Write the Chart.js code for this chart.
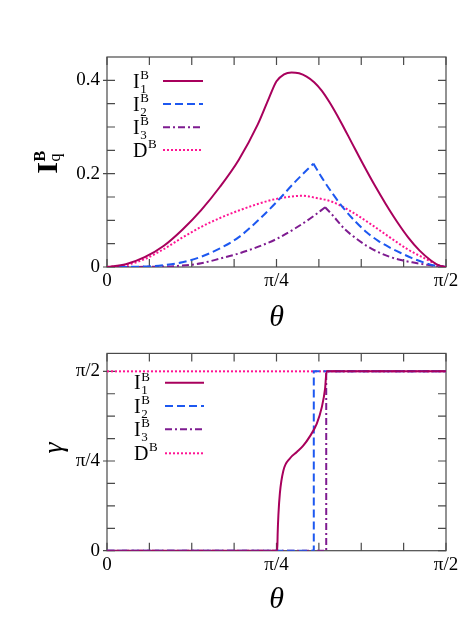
<!DOCTYPE html>
<html>
<head>
<meta charset="utf-8">
<script src="https://cdn.jsdelivr.net/npm/chart.js@4"></script>
<style>
html, body { margin: 0; padding: 0; background: #fff; }
#wrap { position: relative; width: 472px; height: 639px; }
#topChart { position: absolute; left: 0; top: 0; }
#botChart { position: absolute; left: 0; top: 335px; }
</style>
</head>
<body>
<div id="wrap">
  <canvas id="topChart" width="472" height="335"></canvas>
  <canvas id="botChart" width="472" height="304"></canvas>
</div>
<script>
// theta is kept in degrees (0..90 = 0..pi/2), gamma too
const xTickVals = [0, 45, 90];
const xTickLabels = ["0", "π/4", "π/2"];
const xMinorTicks = [11.25, 22.5, 33.75, 56.25, 67.5, 78.75];

const topYTickVals = [0, 0.2, 0.4];
const topYTickLabels = ["0", "0.2", "0.4"];
const topYMinorTicks = [0.05, 0.1, 0.15, 0.25, 0.3, 0.35];

const botYTickVals = [0, 45, 90];
const botYTickLabels = ["0", "π/4", "π/2"];
const botYMinorTicks = [11.25, 22.5, 33.75, 56.25, 67.5, 78.75];

const seriesBase = ["I", "I", "I", "D"];
const seriesSub = ["1", "2", "3", ""];
const seriesSup = ["B", "B", "B", "B"];

// ---- top panel: I_q^B ----
const i1Theta = [0, 5, 10, 15, 20, 25, 30, 35, 40, 43, 45, 47, 49, 51, 53, 55, 57, 59, 62, 65, 68, 71, 74, 77, 80, 83, 86, 88, 90];
const i1Val   = [0, 0.006, 0.021, 0.045, 0.080, 0.122, 0.172, 0.230, 0.305, 0.362, 0.398, 0.413, 0.417, 0.415, 0.408, 0.396, 0.378, 0.354, 0.312, 0.266, 0.220, 0.176, 0.135, 0.097, 0.063, 0.035, 0.014, 0.004, 0];

const i2Theta = [0, 10, 15, 20, 25, 30, 35, 40, 45, 50, 54.8, 57, 60, 63, 66, 69, 72, 75, 78, 81, 84, 87, 90];
const i2Val   = [0, 0.001, 0.004, 0.010, 0.022, 0.040, 0.064, 0.099, 0.139, 0.183, 0.2215, 0.192, 0.156, 0.124, 0.097, 0.074, 0.056, 0.042, 0.030, 0.019, 0.010, 0.003, 0];

const i3Theta = [0, 15, 20, 25, 30, 35, 40, 45, 50, 55, 57.9, 60, 63, 66, 69, 72, 75, 78, 81, 84, 87, 90];
const i3Val   = [0, 0.001, 0.003, 0.008, 0.018, 0.029, 0.043, 0.060, 0.083, 0.110, 0.128, 0.110, 0.082, 0.062, 0.045, 0.032, 0.022, 0.015, 0.010, 0.006, 0.002, 0];

const dTheta = [0, 5, 10, 15, 20, 25, 30, 35, 40, 45, 50, 52, 55, 60, 65, 70, 75, 80, 85, 88, 90];
const dVal   = [0, 0.004, 0.017, 0.038, 0.063, 0.086, 0.105, 0.121, 0.135, 0.146, 0.152, 0.1525, 0.149, 0.139, 0.118, 0.092, 0.064, 0.037, 0.016, 0.004, 0];

// index of the cusp (sharp peak) for each series, -1 = smooth
const topCusp = [-1, 10, 10, -1];

// ---- bottom panel: gamma ----
const g1Theta = [0, 45.2, 45.3, 45.5, 45.9, 46.8, 48.6, 50.4, 52.1, 53.9, 55.7, 57.0, 57.9, 58.3, 90];
const g1Val   = [0, 0, 8, 17.8, 28.9, 40.0, 46.4, 49.5, 52.7, 57.5, 63.8, 71.8, 81.3, 90, 90];

const g2Theta = [0, 54.9, 54.9, 90];
const g2Val   = [0, 0, 90, 90];

const g3Theta = [0, 58.2, 58.2, 90];
const g3Val   = [0, 0, 90, 90];

const gdTheta = [0, 90];
const gdVal   = [90, 90];

const botCurved = [true, false, false, false];

const SERIF = "'Liberation Serif', 'Times New Roman', serif";
const colors = ["#a8005c", "#1d58f0", "#7e1b90", "#ff1493"];
const dashes = [[], [8, 4], [7, 3, 2, 3], [2, 2]];

function pts(xs, ys) {
  return xs.map((x, i) => ({ x: x, y: ys[i] }));
}

function lineDs(i, data, curved) {
  return {
    label: seriesBase[i] + seriesSub[i] + seriesSup[i],
    data: data,
    borderColor: colors[i],
    borderWidth: 2,
    borderDash: dashes[i],
    pointRadius: 0,
    fill: false,
    cubicInterpolationMode: curved ? "monotone" : "default",
    tension: 0
  };
}

// one dataset per series; a series with a cusp is drawn as two pieces
function makeDatasets(sets, curved, cusps) {
  const out = [];
  sets.forEach((s, i) => {
    const all = pts(s[0], s[1]);
    const c = cusps ? cusps[i] : -1;
    if (c > 0) {
      out.push(lineDs(i, all.slice(0, c + 1), curved[i]));
      out.push(lineDs(i, all.slice(c), curved[i]));
    } else {
      out.push(lineDs(i, all, curved[i]));
    }
  });
  return out;
}

// --------------------
// frame, ticks, legend, titles
// --------------------
const frameCfg = {
  topChart: {
    yMajor: topYTickVals, yMinor: topYMinorTicks,
    legendY: [81, 104, 127.3, 150], legendX: 133, lineX: [163, 203],
    xTitleY: 326
  },
  botChart: {
    yMajor: botYTickVals, yMinor: botYMinorTicks,
    legendY: [47.7, 71, 94.3, 118.3], legendX: 134, lineX: [165, 204],
    xTitleY: 273
  }
};

function drawFrame(chart, cfg) {
  const { ctx, chartArea: a, scales } = chart;
  ctx.save();
  ctx.strokeStyle = "#4a4a4a";
  ctx.lineWidth = 1.2;
  ctx.beginPath();
  xTickVals.concat(xMinorTicks).forEach(v => {
    const px = scales.x.getPixelForValue(v);
    ctx.moveTo(px, a.top); ctx.lineTo(px, a.top + 8);
    ctx.moveTo(px, a.bottom); ctx.lineTo(px, a.bottom - 8);
  });
  cfg.yMajor.concat(cfg.yMinor).forEach(v => {
    const py = scales.y.getPixelForValue(v);
    ctx.moveTo(a.left, py); ctx.lineTo(a.left + 8, py);
    ctx.moveTo(a.right, py); ctx.lineTo(a.right - 8, py);
  });
  cfg.yMajor.forEach(v => {
    const py = scales.y.getPixelForValue(v);
    ctx.moveTo(a.left - 4, py); ctx.lineTo(a.left, py);
  });
  ctx.stroke();
  ctx.strokeRect(a.left, a.top, a.right - a.left, a.bottom - a.top);
  ctx.restore();
}

function drawLegend(chart, cfg) {
  const ctx = chart.ctx;
  ctx.save();
  ctx.fillStyle = "#000";
  ctx.textAlign = "left";
  ctx.textBaseline = "alphabetic";
  seriesBase.forEach((base, i) => {
    const y = cfg.legendY[i];
    ctx.font = "20px " + SERIF;
    ctx.fillText(base, cfg.legendX, y + 6.5);
    const w = ctx.measureText(base).width;
    ctx.font = "13px " + SERIF;
    if (seriesSub[i]) ctx.fillText(seriesSub[i], cfg.legendX + w + 0.5, y + 11.5);
    ctx.fillText(seriesSup[i], cfg.legendX + w + 0.5, y - 2);

    ctx.strokeStyle = colors[i];
    ctx.lineWidth = 2;
    ctx.setLineDash(dashes[i]);
    ctx.beginPath();
    ctx.moveTo(cfg.lineX[0], y);
    ctx.lineTo(cfg.lineX[1], y);
    ctx.stroke();
    ctx.setLineDash([]);
  });
  ctx.restore();
}

function drawTitles(chart, cfg) {
  const { ctx, chartArea: a } = chart;
  ctx.save();
  ctx.fillStyle = "#000";
  ctx.textBaseline = "alphabetic";
  // x title
  ctx.textAlign = "center";
  ctx.font = "italic 30px " + SERIF;
  ctx.fillText("θ", (a.left + a.right) / 2, cfg.xTitleY);

  // y title
  const cy = (a.top + a.bottom) / 2;
  if (chart.canvas.id === "topChart") {
    ctx.translate(57, cy);
    ctx.rotate(-Math.PI / 2);
    ctx.textAlign = "right";
    ctx.font = "bold 30px " + SERIF;
    ctx.fillText("I", 0, 0);
    ctx.textAlign = "left";
    ctx.font = "bold 16px " + SERIF;
    ctx.fillText("B", 0.5, -12);
    ctx.font = "16px " + SERIF;
    ctx.fillText("q", 0.5, 3);
  } else {
    ctx.translate(62, cy - 4);
    ctx.rotate(-Math.PI / 2);
    ctx.textAlign = "center";
    ctx.font = "italic 28px " + SERIF;
    ctx.fillText("γ", 0, 0);
  }
  ctx.restore();
}

const framePlugin = {
  id: "frame",
  beforeDatasetsDraw(chart) {
    drawFrame(chart, frameCfg[chart.canvas.id]);
  },
  afterDatasetsDraw(chart) {
    const cfg = frameCfg[chart.canvas.id];
    drawLegend(chart, cfg);
    drawTitles(chart, cfg);
  }
};

function makeScales(yMin, yMax, yVals, yLabels, xHeight) {
  const tickFont = { family: SERIF, size: 19 };
  return {
    x: {
      type: "linear", min: 0, max: 90,
      grid: { display: false, drawTicks: false, tickLength: 0 },
      border: { display: false },
      afterBuildTicks: s => { s.ticks = xTickVals.map(v => ({ value: v })); },
      afterFit: s => { s.height = xHeight; },
      ticks: {
        callback: (v, i) => xTickLabels[i],
        font: tickFont, color: "#000", padding: 3,
        maxRotation: 0, autoSkip: false
      }
    },
    y: {
      type: "linear", min: yMin, max: yMax,
      grid: { display: false, drawTicks: false, tickLength: 0 },
      border: { display: false },
      afterBuildTicks: s => { s.ticks = yVals.map(v => ({ value: v })); },
      afterFit: s => { s.width = 107; },
      ticks: {
        callback: (v, i) => yLabels[i],
        font: tickFont, color: "#000", padding: 7, autoSkip: false
      }
    }
  };
}

function makeChart(id, datasets, scales, padTop) {
  return new Chart(document.getElementById(id), {
    type: "line",
    data: { datasets },
    options: {
      responsive: false,
      animation: false,
      layout: { padding: { left: 0, right: 26, top: padTop, bottom: 0 } },
      plugins: { legend: { display: false }, tooltip: { enabled: false } },
      scales
    },
    plugins: [framePlugin]
  });
}

makeChart(
  "topChart",
  makeDatasets([[i1Theta, i1Val], [i2Theta, i2Val], [i3Theta, i3Val], [dTheta, dVal]], [true, true, true, true], topCusp),
  makeScales(0, 0.45, topYTickVals, topYTickLabels, 68),
  57
);

makeChart(
  "botChart",
  makeDatasets([[g1Theta, g1Val], [g2Theta, g2Val], [g3Theta, g3Val], [gdTheta, gdVal]], botCurved, null),
  makeScales(0, 99, botYTickVals, botYTickLabels, 88.3),
  7.7
);
</script>
</body>
</html>
